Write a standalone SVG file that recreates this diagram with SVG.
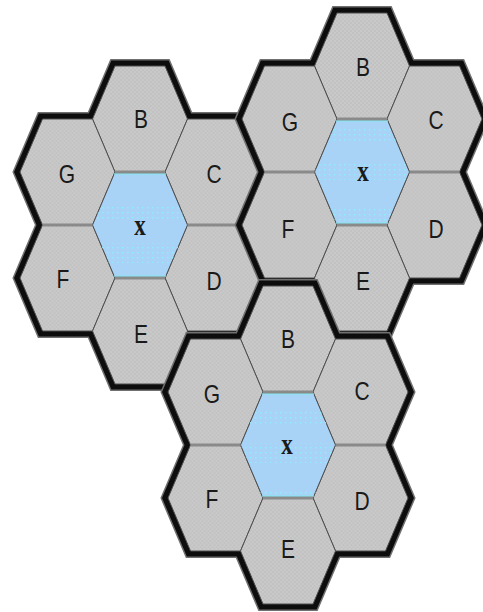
<svg xmlns="http://www.w3.org/2000/svg" xmlns:xlink="http://www.w3.org/1999/xlink" width="483" height="612" viewBox="0 0 483 612">
<style>
.halo{fill:none;stroke:#707070;stroke-width:14;stroke-linejoin:miter}
.rim{fill:none;stroke:#0d0d0d;stroke-width:11;stroke-linejoin:miter}
.cell{fill:url(#gray);stroke:#4d4d4d;stroke-width:1}
.xcell{fill:#a9d3f6;stroke:#4d4d4d;stroke-width:1}
.hedge{stroke:#8a8a8a;stroke-width:3;fill:none}
.lbl{font-family:"Liberation Sans",Arial,sans-serif;font-size:21px;fill:#1a1a1a;text-anchor:middle}
.xl{font-family:"Liberation Serif","Times New Roman",serif;font-size:23px;font-weight:bold;fill:#1a1a1a;text-anchor:middle}
.cy{fill:#86e4f2}
.dt{fill:url(#dots)}
</style>
<defs>
<path id="hex" d="M-47.5,0 L-25,-53 L25,-53 L47.5,0 L25,53 L-25,53Z"/>
<path id="outline" d="M-25,-159 L25,-159 L47.5,-106 L97.5,-106 L120,-53 L97.5,0 L120,53 L97.5,106 L47.5,106 L25,159 L-25,159 L-47.5,106 L-97.5,106 L-120,53 L-97.5,0 L-120,-53 L-97.5,-106 L-47.5,-106Z"/>
<clipPath id="xclip"><path d="M-47.5,0 L-25,-53 L25,-53 L47.5,0 L25,53 L-25,53Z"/></clipPath>
<pattern id="gray" width="4" height="4" patternUnits="userSpaceOnUse"><rect width="4" height="4" fill="#c9c9c9"/><rect width="2" height="2" fill="#c2c2c2"/><rect x="2" y="2" width="2" height="2" fill="#c2c2c2"/></pattern>
<pattern id="dots" width="5" height="5" patternUnits="userSpaceOnUse"><rect x="2" y="2" width="1.4" height="1.4" fill="#8cf0fb"/></pattern>
</defs>
<rect width="483" height="612" fill="#ffffff"/>

<g id="cluster-left" transform="translate(140,225)">
<use href="#outline" class="halo"/><use href="#outline" class="rim"/>
<g id="L-B"><use href="#hex" class="cell" y="-106"/><text class="lbl" transform="translate(1,-97) scale(1,1.25)">B</text></g>
<g id="L-G"><use href="#hex" class="cell" x="-72.5" y="-53"/><text class="lbl" transform="translate(-73,-42) scale(1,1.25)">G</text></g>
<g id="L-C"><use href="#hex" class="cell" x="72.5" y="-53"/><text class="lbl" transform="translate(74,-42) scale(1,1.25)">C</text></g>
<g id="L-F"><use href="#hex" class="cell" x="-72.5" y="53"/><text class="lbl" transform="translate(-77,63) scale(1,1.25)">F</text></g>
<g id="L-D"><use href="#hex" class="cell" x="72.5" y="53"/><text class="lbl" transform="translate(74,65) scale(1,1.25)">D</text></g>
<g id="L-E"><use href="#hex" class="cell" y="106"/><text class="lbl" transform="translate(1,118) scale(1,1.25)">E</text></g>
<g id="L-x"><use href="#hex" class="xcell"/>
<g clip-path="url(#xclip)"><rect class="cy" x="-50" y="-52" width="100" height="1.6"/><rect class="cy" x="-50" y="50.4" width="100" height="1.6"/><rect class="dt" x="-50" y="-18" width="100" height="15"/><rect class="dt" x="-50" y="18" width="100" height="20"/></g>
<text class="xl" transform="translate(0,10) scale(1,1.25)">x</text></g>
<path class="hedge" d="M-25,-53H25M-25,53H25M-97.5,0H-47.5M47.5,0H97.5"/>
</g>

<g id="cluster-right" transform="translate(362,172)">
<use href="#outline" class="halo"/><use href="#outline" class="rim"/>
<g id="R-B"><use href="#hex" class="cell" y="-106"/><text class="lbl" transform="translate(1,-96) scale(1,1.25)">B</text></g>
<g id="R-G"><use href="#hex" class="cell" x="-72.5" y="-53"/><text class="lbl" transform="translate(-72,-41) scale(1,1.25)">G</text></g>
<g id="R-C"><use href="#hex" class="cell" x="72.5" y="-53"/><text class="lbl" transform="translate(74,-43) scale(1,1.25)">C</text></g>
<g id="R-F"><use href="#hex" class="cell" x="-72.5" y="53"/><text class="lbl" transform="translate(-74,66) scale(1,1.25)">F</text></g>
<g id="R-D"><use href="#hex" class="cell" x="72.5" y="53"/><text class="lbl" transform="translate(74,66) scale(1,1.25)">D</text></g>
<g id="R-E"><use href="#hex" class="cell" y="106"/><text class="lbl" transform="translate(1,118) scale(1,1.25)">E</text></g>
<g id="R-x"><use href="#hex" class="xcell"/>
<g clip-path="url(#xclip)"><rect class="cy" x="-50" y="-52" width="100" height="1.6"/><rect class="cy" x="-50" y="50.4" width="100" height="1.6"/><rect class="dt" x="-50" y="-46" width="100" height="16"/><rect class="dt" x="-50" y="-9" width="100" height="17"/><rect class="dt" x="-50" y="36" width="100" height="14"/></g>
<text class="xl" transform="translate(1,9) scale(1,1.25)">x</text></g>
<path class="hedge" d="M-25,-53H25M-25,53H25M-97.5,0H-47.5M47.5,0H97.5"/>
</g>

<g id="cluster-bottom" transform="translate(288,445)">
<use href="#outline" class="halo"/><use href="#outline" class="rim"/>
<g id="B-B"><use href="#hex" class="cell" y="-106"/><text class="lbl" transform="translate(0,-97) scale(1,1.25)">B</text></g>
<g id="B-G"><use href="#hex" class="cell" x="-72.5" y="-53"/><text class="lbl" transform="translate(-76,-42) scale(1,1.25)">G</text></g>
<g id="B-C"><use href="#hex" class="cell" x="72.5" y="-53"/><text class="lbl" transform="translate(74,-45) scale(1,1.25)">C</text></g>
<g id="B-F"><use href="#hex" class="cell" x="-72.5" y="53"/><text class="lbl" transform="translate(-76,63) scale(1,1.25)">F</text></g>
<g id="B-D"><use href="#hex" class="cell" x="72.5" y="53"/><text class="lbl" transform="translate(74,65) scale(1,1.25)">D</text></g>
<g id="B-E"><use href="#hex" class="cell" y="106"/><text class="lbl" transform="translate(0,113) scale(1,1.25)">E</text></g>
<g id="B-x"><use href="#hex" class="xcell"/>
<g clip-path="url(#xclip)"><rect class="cy" x="-50" y="-52" width="100" height="1.6"/><rect class="cy" x="-50" y="50.4" width="100" height="1.6"/><rect class="dt" x="-50" y="-34" width="100" height="14"/><rect class="dt" x="-50" y="-2" width="100" height="20"/><rect class="dt" x="-50" y="44" width="100" height="6"/></g>
<text class="xl" transform="translate(-1,9) scale(1,1.25)">x</text></g>
<path class="hedge" d="M-25,-53H25M-25,53H25M-97.5,0H-47.5M47.5,0H97.5"/>
</g>
</svg>
